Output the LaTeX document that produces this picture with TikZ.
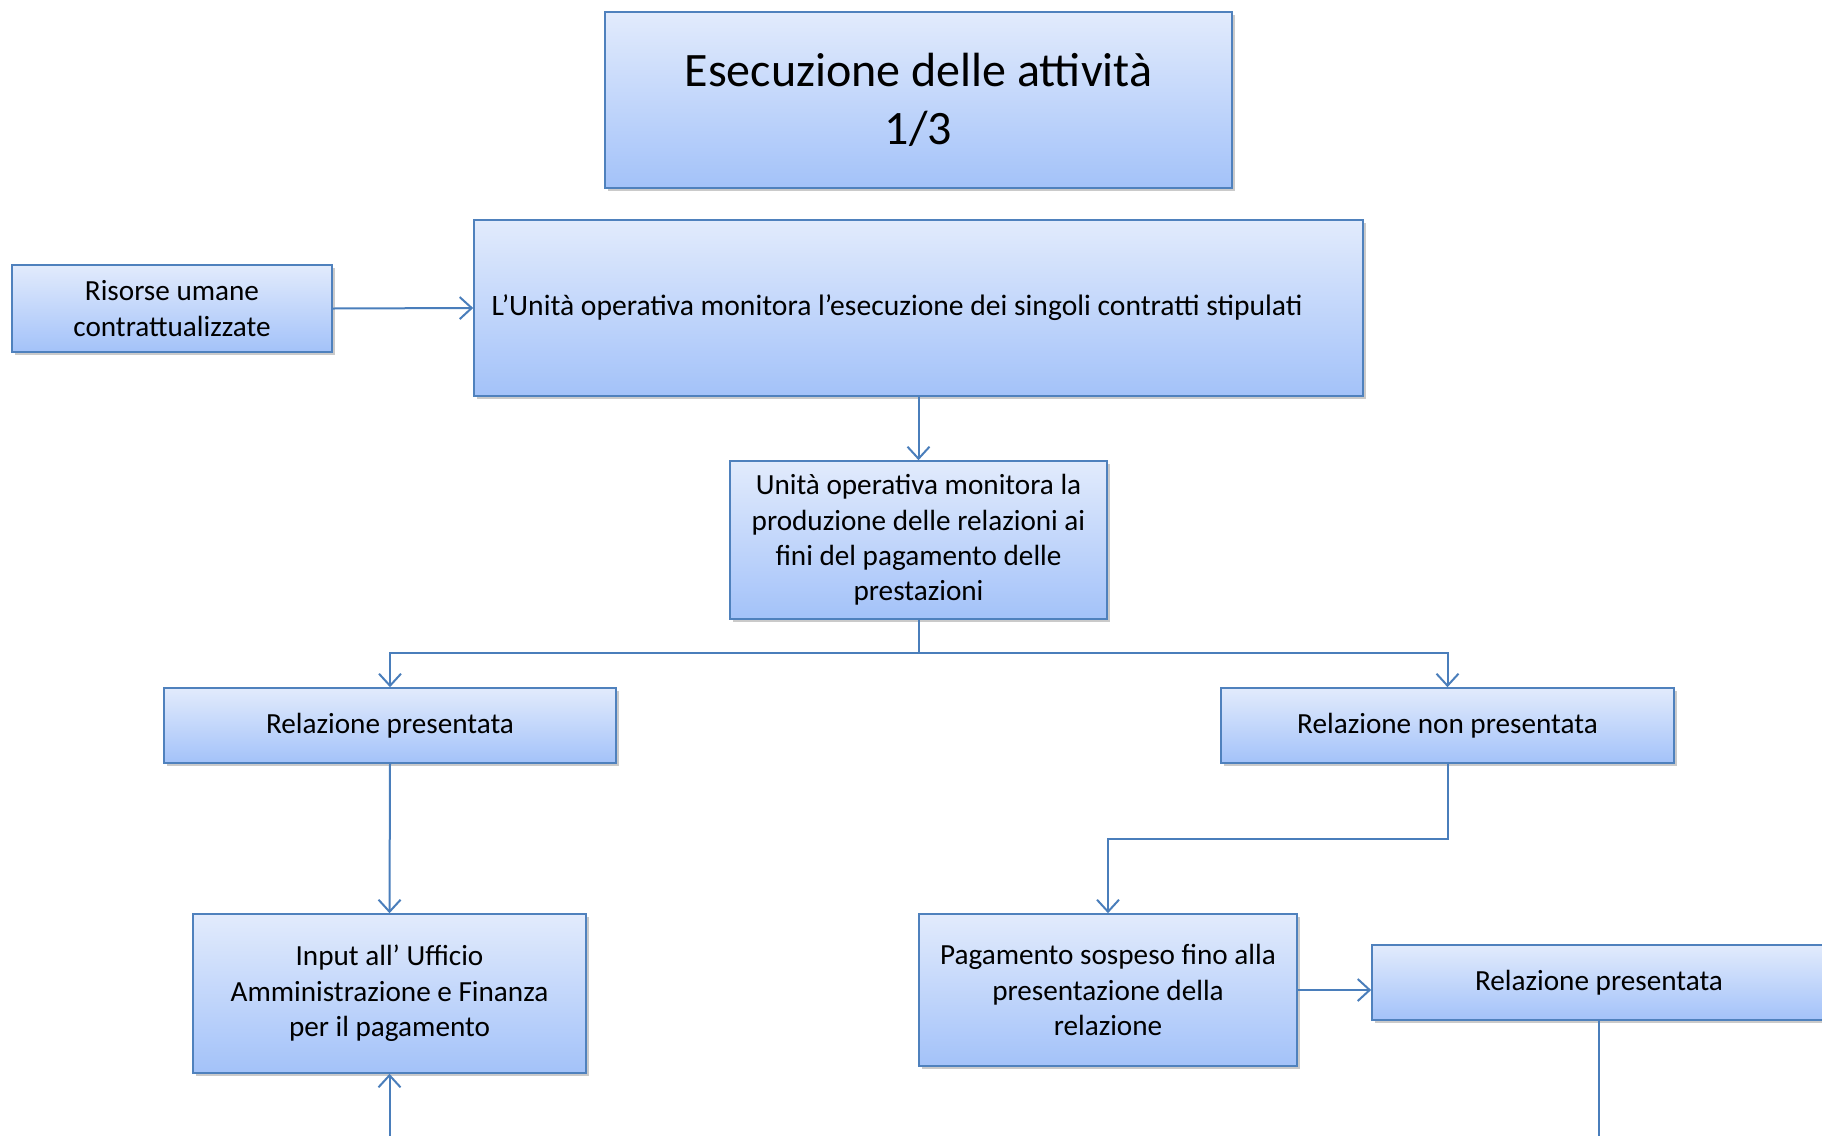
\documentclass[tikz,border=0pt]{standalone}
\usepackage{fontspec}
\setmainfont{Carlito}
\usetikzlibrary{arrows.meta,shadows,calc}
\definecolor{topc}{HTML}{E2EBFC}
\definecolor{botc}{HTML}{A3C2F9}
\definecolor{bordc}{HTML}{4F81BD}
\definecolor{linec}{HTML}{4A7EBB}
\tikzset{
  box/.style={draw=bordc, line width=0.8pt, top color=topc, bottom color=botc,
    rectangle, align=center, inner sep=3pt, font=\fontsize{14.6}{17.7}\selectfont,
    drop shadow={shadow xshift=1.5pt, shadow yshift=-1.5pt, opacity=0.35, fill=black!60}},
  conn/.style={draw=linec, line width=1pt},
  arr/.style={conn, -{Straight Barb[length=6pt,width=11pt,line width=1pt]}},
}
\begin{document}
\begin{tikzpicture}[x=1pt,y=-1pt]
\useasboundingbox (0,0) rectangle (911,568);
\begin{scope}
\clip (0,0) rectangle (911,568);
\node[box, minimum width=313.5pt, minimum height=88pt, font=\fontsize{24}{29}\selectfont] (title) at (459.25,50) {Esecuzione delle attività\\1/3};
\node[box, minimum width=444.5pt, minimum height=88pt, align=flush left, text width=427pt, font=\fontsize{14.8}{17.7}\selectfont] (main) at (459.25,154) {L’Unità operativa monitora l’esecuzione dei singoli contratti stipulati};
\node[box, minimum width=160pt, minimum height=43.5pt] (ris) at (86,154.25) {Risorse umane\\contrattualizzate};
\node[box, minimum width=188.5pt, minimum height=79pt] (unita) at (459.25,270) {Unità operativa monitora la\\produzione delle relazioni ai\\fini del pagamento delle\\prestazioni};
\node[box, minimum width=226pt, minimum height=37.5pt] (relL) at (195,362.75) {Relazione presentata};
\node[box, minimum width=226.5pt, minimum height=37.5pt] (relN) at (723.75,362.75) {Relazione non presentata};
\node[box, minimum width=196.5pt, minimum height=79.5pt] (inp) at (194.75,496.75) {Input all’ Ufficio\\Amministrazione e Finanza\\per il pagamento};
\node[box, minimum width=189pt, minimum height=76pt] (pag) at (554,495) {Pagamento sospeso fino alla\\presentazione della\\relazione};
\node[box, minimum width=227pt, minimum height=37.5pt] (relR) at (799.5,491.25) {Relazione presentata};

\coordinate (br) at (459.25,326.5);
\coordinate (bend) at (723.75,419.5);
\coordinate (botR) at (799.5,570);
\coordinate (botL) at (194.75,570);

\draw[arr] (ris.east) -- (main.west);
\draw[arr] (main.south) -- (unita.north);
\draw[conn] (unita.south) -- (br);
\draw[arr] (br) -| (relL.north);
\draw[arr] (br) -| (relN.north);
\draw[arr] (relL.south) -- (inp.north);
\draw[arr] (relN.south) -- (bend) -| (pag.north);
\draw[arr] (pag.east) -- (pag.east -| relR.west);
\draw[conn] (relR.south) -- (botR);
\draw[arr] (botL) -- (inp.south);
\end{scope}
\end{tikzpicture}
\end{document}
